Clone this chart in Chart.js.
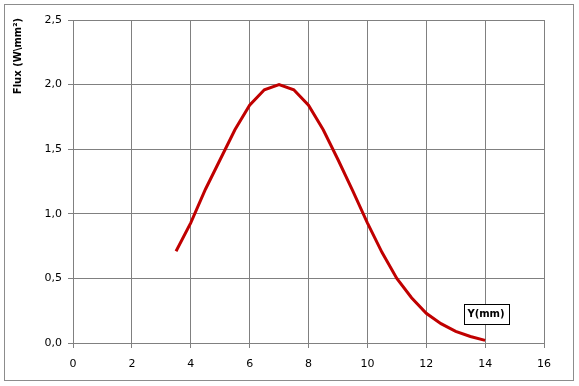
<!DOCTYPE html>
<html>
<head>
<meta charset="utf-8">
<script src="https://cdn.jsdelivr.net/npm/chart.js@4/dist/chart.umd.min.js"></script>
<style>
  html, body { margin: 0; padding: 0; background: #fff; }
  #wrap { position: relative; width: 579px; height: 386px; }
  #frame { position: absolute; left: 4px; top: 4px; width: 568px; height: 375px; border: 1px solid #8c8c8c; pointer-events: none; }
  canvas { position: absolute; left: 0; top: 0; }
</style>
</head>
<body>
<div id="wrap">
  <canvas id="c" width="579" height="386"></canvas>
  <div id="frame"></div>
</div>
<script>
const positionsMm = [3.5, 4, 4.5, 5, 5.5, 6, 6.5, 7, 7.5, 8, 8.5, 9, 9.5, 10, 10.5, 11, 11.5, 12, 12.5, 13, 13.5, 14];
const fluxValues  = [0.71, 0.93, 1.19, 1.42, 1.65, 1.84, 1.96, 2.0, 1.96, 1.84, 1.65, 1.42, 1.18, 0.93, 0.70, 0.50, 0.35, 0.23, 0.15, 0.09, 0.05, 0.02];
const yTitle = "Flux (W\\mm\u00B2)";
const xTitle = "Y(mm)";
const xRange = [0, 16];
const yRange = [0, 2.5];

const FONT = "'DejaVu Sans', sans-serif";
const GRID = '#808080';

const titlesPlugin = {
  id: 'titles',
  afterDraw(chart) {
    const ctx = chart.ctx;
    ctx.save();
    ctx.font = "bold 10px " + FONT;
    ctx.fillStyle = '#000';
    ctx.textAlign = 'center';
    ctx.textBaseline = 'middle';
    ctx.translate(18, 56);
    ctx.rotate(-Math.PI / 2);
    ctx.fillText(yTitle, 0, 0);
    ctx.restore();

    ctx.save();
    ctx.font = "bold 10px " + FONT;
    const cx = 486, cy = 314;
    const w = 45, h = 20;
    ctx.fillStyle = '#fff';
    ctx.fillRect(cx - w / 2, cy - h / 2, w, h);
    ctx.strokeStyle = '#000';
    ctx.lineWidth = 1;
    ctx.strokeRect(Math.round(cx - w / 2) + 0.5, Math.round(cy - h / 2) + 0.5, w, h);
    ctx.fillStyle = '#000';
    ctx.textAlign = 'center';
    ctx.textBaseline = 'middle';
    ctx.fillText(xTitle, cx, cy + 0.5);
    ctx.restore();
  }
};

new Chart(document.getElementById('c'), {
  type: 'line',
  data: {
    datasets: [{
      data: positionsMm.map((x, i) => ({ x: x, y: fluxValues[i] })),
      borderColor: '#c00000',
      borderWidth: 3,
      pointRadius: 0,
      tension: 0,
      fill: false
    }]
  },
  options: {
    responsive: false,
    animation: false,
    devicePixelRatio: 1,
    layout: { padding: { top: 20, right: 35, left: 0, bottom: 0 } },
    plugins: { legend: { display: false }, tooltip: { enabled: false }, title: { display: false } },
    scales: {
      x: {
        type: 'linear',
        min: xRange[0], max: xRange[1],
        afterFit(scale) { scale.height = 43; },
        ticks: { stepSize: 2, color: '#000', font: { family: FONT, size: 11 }, padding: 10, maxRotation: 0 },
        grid: { color: GRID, lineWidth: 1, tickLength: 5, tickColor: GRID, drawTicks: true },
        border: { color: GRID, width: 1 }
      },
      y: {
        type: 'linear',
        min: yRange[0], max: yRange[1],
        afterFit(scale) { scale.width = 73; },
        ticks: {
          stepSize: 0.5, color: '#000', font: { family: FONT, size: 11 }, padding: 6,
          callback: v => v.toFixed(1).replace('.', ',')
        },
        grid: { color: GRID, lineWidth: 1, tickLength: 5, tickColor: GRID },
        border: { color: GRID, width: 1 }
      }
    }
  },
  plugins: [titlesPlugin]
});
</script>
</body>
</html>
